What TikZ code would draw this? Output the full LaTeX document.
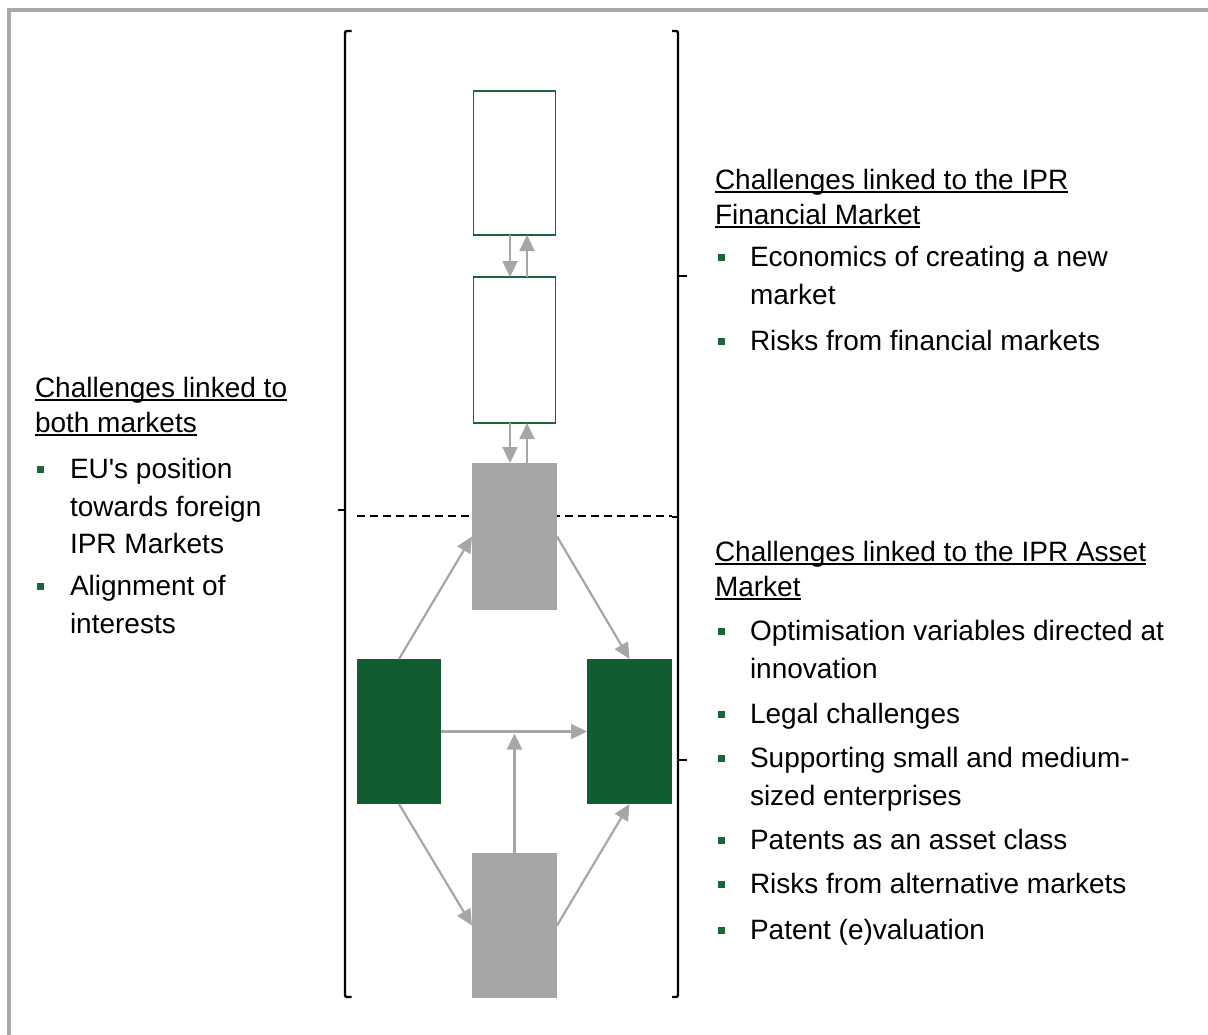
\documentclass[tikz,border=0pt]{standalone}
\usepackage{fontspec}
\setmainfont{Liberation Sans}
\usetikzlibrary{arrows.meta,calc}
\definecolor{dkgreen}{HTML}{115C30}
\definecolor{lngreen}{HTML}{1A6638}
\definecolor{boxgray}{HTML}{A6A6A6}
\definecolor{framegray}{HTML}{A8A8A8}
\newcommand\hdrul[1]{\setbox0\hbox{#1}\rlap{\rule[-4.3pt]{\wd0}{1.9pt}}\box0}
\begin{document}
\begin{tikzpicture}[x=1pt,y=-1pt,
  wbox/.style={draw=lngreen,line width=1.9pt,fill=white,inner sep=0,outer sep=0,minimum width=82,minimum height=144},
  gbox/.style={fill=boxgray,inner sep=0,outer sep=0,minimum width=85,minimum height=146},
  grbox/.style={fill=dkgreen,inner sep=0,outer sep=0,minimum width=84,minimum height=145},
  arr/.style={draw=boxgray,line width=2.2pt,-{Triangle[length=16pt,width=15pt]}},
  brk/.style={draw=black,line width=2.4pt,rounded corners=2pt},
  txt/.style={anchor=base west,inner sep=0,outer sep=0,font=\fontsize{28}{34}\selectfont},
  bul/.style={fill=lngreen}]
\useasboundingbox (0,0) rectangle (1208,1034);
% frame
\draw[framegray,line width=3.7pt] (9.3,1040) -- (9.3,10) -- (1215,10);
% brackets
\draw[brk] (351.5,31) -- (345,31) -- (345,997) -- (351.5,997);
\draw[brk] (345,510) -- (338,510);
\draw[brk] (672,31) -- (678,31) -- (678,997) -- (672,997);
\draw[brk] (678,517) -- (671.5,517);
\draw[brk] (678,276) -- (686.5,276);
\draw[brk] (678,760) -- (686.5,760);
% dashed separator
\coordinate (dl) at (357,516);
\coordinate (dr) at (672,516);
\draw[black,line width=1.7pt,dash pattern=on 8pt off 5pt] (dl) -- (dr);
% boxes
\node[wbox] (b1) at (514.5,163) {};
\node[wbox,minimum height=146] (b2) at (514.5,350) {};
\node[gbox,minimum height=147] (g1) at (514.5,536.5) {};
\node[grbox] (gl) at (399,731.5) {};
\node[grbox,minimum width=85] (gr) at (629.5,731.5) {};
\node[gbox,minimum height=145] (g2) at (514.5,925.5) {};
\coordinate (hmid) at (514.5,733.5);
% arrows
\draw[arr] ([xshift=-4.5pt]b1.south) -- ([xshift=-4.5pt]b2.north);
\draw[arr] ([xshift=12.5pt]b2.north) -- ([xshift=12.5pt]b1.south);
\draw[arr] ([xshift=-4.5pt]b2.south) -- ([xshift=-4.5pt]g1.north);
\draw[arr] ([xshift=12.5pt]g1.north) -- ([xshift=12.5pt]b2.south);
\draw[arr] (gl.north) -- (g1.west);
\draw[arr] (g1.east) -- (gr.north);
\draw[arr] (gl.east) -- (gr.west);
\draw[arr] (g2.north) -- (hmid);
\draw[arr] (gl.south) -- (g2.west);
\draw[arr] (g2.east) -- (gr.south);
% left text
\node[txt] (l1) at (35,397) {\hdrul{Challenges linked to}};
\node[txt] (l2) at (35,432) {\hdrul{both markets}};
\fill[bul] (37,465.5) rectangle (44,472.5);
\node[txt] (l3) at (70,478) {EU\textquotesingle s position};
\node[txt] (l4) at (70,516) {towards foreign};
\node[txt] (l5) at (70,553) {IPR Markets};
\fill[bul] (37,582.5) rectangle (44,589.5);
\node[txt] (l6) at (70,595) {Alignment of};
\node[txt] (l7) at (70,633) {interests};
% right top text
\node[txt] (r1) at (715,189) {\hdrul{Challenges linked to the IPR}};
\node[txt] (r2) at (715,224) {\hdrul{Financial Market}};
\fill[bul] (718,253.5) rectangle (725,260.5);
\node[txt] (r3) at (750,266) {Economics of creating a new};
\node[txt] (r4) at (750,304) {market};
\fill[bul] (718,337.5) rectangle (725,344.5);
\node[txt] (r5) at (750,350) {Risks from financial markets};
% right bottom text
\node[txt] (s1) at (715,561) {\hdrul{Challenges linked to the IPR Asset}};
\node[txt] (s2) at (715,596) {\hdrul{Market}};
\fill[bul] (718,627.5) rectangle (725,634.5);
\node[txt] (s3) at (750,640) {Optimisation variables directed at};
\node[txt] (s4) at (750,678) {innovation};
\fill[bul] (718,710.5) rectangle (725,717.5);
\node[txt] (s5) at (750,723) {Legal challenges};
\fill[bul] (718,754.5) rectangle (725,761.5);
\node[txt] (s6) at (750,767) {Supporting small and medium-};
\node[txt] (s7) at (750,805) {sized enterprises};
\fill[bul] (718,836.5) rectangle (725,843.5);
\node[txt] (s8) at (750,849) {Patents as an asset class};
\fill[bul] (718,880.5) rectangle (725,887.5);
\node[txt] (s9) at (750,893) {Risks from alternative markets};
\fill[bul] (718,926.5) rectangle (725,933.5);
\node[txt] (s10) at (750,939) {Patent (e)valuation};
\end{tikzpicture}
\end{document}
